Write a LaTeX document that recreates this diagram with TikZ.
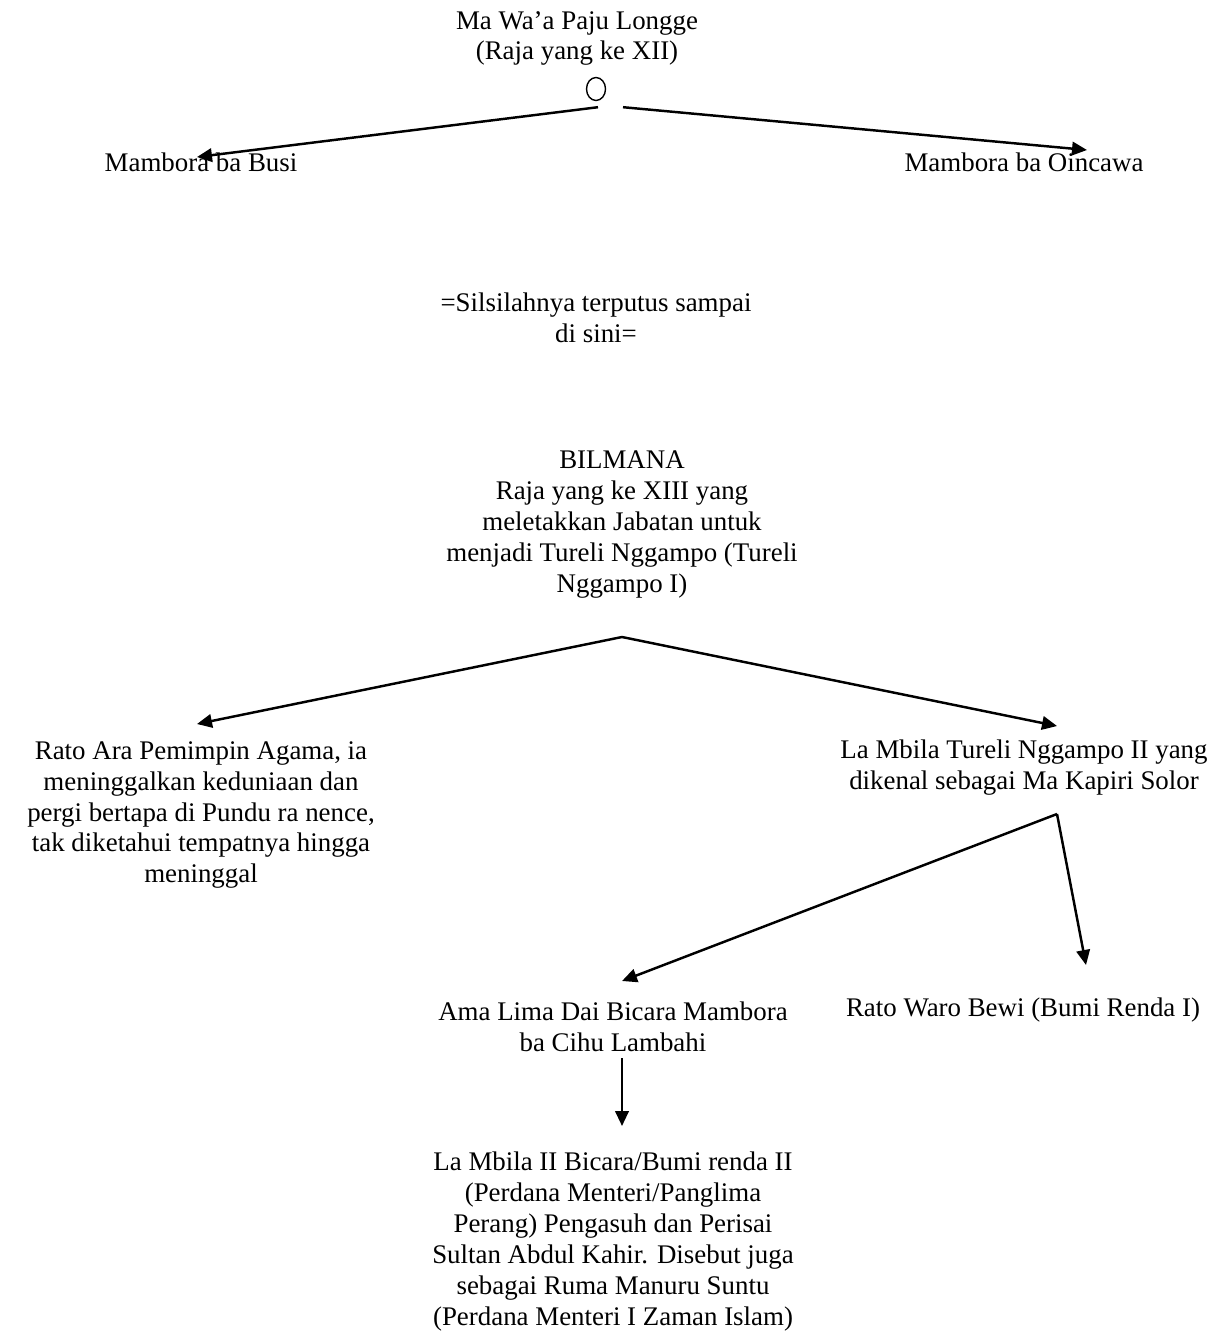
\documentclass[tikz,border=0pt]{standalone}
\usepackage{fontspec}
\setmainfont{Liberation Serif}
\usetikzlibrary{arrows.meta, calc, shapes.geometric}

\begin{document}
\begin{tikzpicture}[
    txt/.style={align=center, inner sep=0pt, font=\fontsize{15.3pt}{17.6pt}\selectfont},
    arrow/.style={-{Triangle[length=3mm,width=2.7mm]}, line width=1.4pt},
]
\useasboundingbox (0,0) rectangle (24.4,-26.68);

% Raja XII
\node[txt] (paju) at (11.54,-0.77) {Ma Wa’a Paju Longge\\(Raja yang ke XII)};
\node[ellipse, draw, line width=0.8pt, minimum width=0.38cm, minimum height=0.46cm, inner sep=0pt] (circ) at (11.92,-1.78) {};
\node[txt] (busi) at (4.02,-3.24) {Mambora ba Busi};
\node[txt] (oinc) at (20.48,-3.24) {Mambora ba Oincawa};
\draw[arrow] ($(circ.south)+(0.04,-0.12)$) -- ($(busi.center)+(-0.08,0.10)$);
\draw[arrow] ($(circ.south)+(0.54,-0.12)$) -- ($(oinc.center)+(1.26,0.24)$);

\node[txt] (putus) at (11.92,-6.35) {=Silsilahnya terputus sampai\\di sini=};

% Bilmana
\node[txt] (bilmana) at (12.44,-10.49) {BILMANA\\Raja yang ke XIII yang\\meletakkan Jabatan untuk\\menjadi Tureli Nggampo (Tureli\\Nggampo I)};
\coordinate (fork1) at ($(bilmana.center)+(0,-2.25)$);
\node[txt] (ratoara) at (4.02,-16.3) {Rato Ara Pemimpin Agama, ia\\meninggalkan keduniaan dan\\pergi bertapa di Pundu ra nence,\\tak diketahui tempatnya hingga\\meninggal};
\node[txt] (lambila) at (20.48,-15.36) {La Mbila Tureli Nggampo II yang\\dikenal sebagai Ma Kapiri Solor};
\draw[arrow] (fork1) -- ($(ratoara.center)+(-0.08,1.82)$);
\draw[arrow] (fork1) -- ($(lambila.center)+(0.66,0.84)$);

% La Mbila
\coordinate (fork2) at ($(lambila.center)+(0.66,-0.92)$);
\node[txt] (ama) at (12.26,-20.54) {Ama Lima Dai Bicara Mambora\\ba Cihu Lambahi};
\node[txt] (bewi) at (20.46,-20.2) {Rato Waro Bewi (Bumi Renda I)};
\draw[arrow] (fork2) -- ($(ama.center)+(0.18,0.92)$);
\draw[arrow] (fork2) -- ($(bewi.center)+(1.26,0.9)$);

% La Mbila II
\node[txt] (mbila2) at (12.26,-24.83) {La Mbila II Bicara/Bumi renda II\\(Perdana Menteri/Panglima\\Perang) Pengasuh dan Perisai\\Sultan Abdul Kahir. Disebut juga\\sebagai Ruma Manuru Suntu\\(Perdana Menteri I Zaman Islam)};
\draw[arrow] ($(ama.center)+(0.18,-0.62)$) -- ($(mbila2.center)+(0.18,2.31)$);
\end{tikzpicture}
\end{document}
